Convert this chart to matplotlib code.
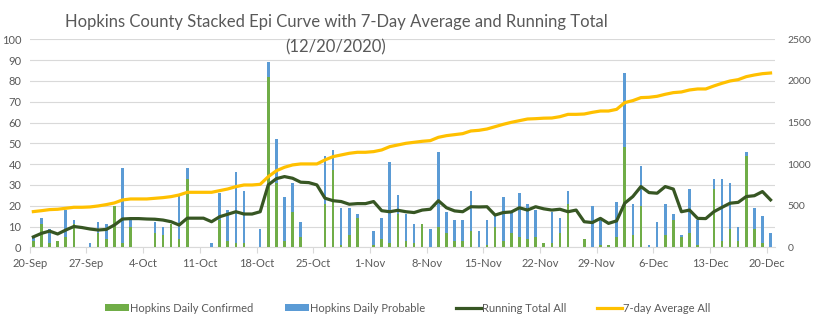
import matplotlib
matplotlib.use("Agg")
import matplotlib.pyplot as plt
import numpy as np
import pandas as pd

plt.rcParams['font.family'] = ['Lato', 'DejaVu Sans']

dates = pd.date_range('2020-09-20', '2020-12-20', freq='D')
tick_labels = ['20-Sep', '27-Sep', '4-Oct', '11-Oct', '18-Oct', '25-Oct', '1-Nov',
               '8-Nov', '15-Nov', '22-Nov', '29-Nov', '6-Dec', '13-Dec', '20-Dec']

confirmed = [3, 11, 2, 3, 5, 11, 0, 0, 7, 4, 20, 2, 10, 0, 0, 7, 6, 11, 4, 33,
             0, 0, 0, 13, 3, 2, 2, 0, 0, 82, 31, 3, 17, 5, 0, 0, 21, 37, 1, 6,
             14, 0, 1, 4, 2, 16, 3, 2, 11, 0, 10, 7, 3, 3, 8, 0, 1, 10, 3, 7,
             5, 4, 5, 2, 2, 7, 21, 0, 4, 0, 1, 1, 5, 48, 6, 20, 0, 0, 6, 13,
             5, 7, 1, 0, 28, 3, 9, 3, 44, 9, 2, 0]
probable = [2, 3, 7, 0, 13, 2, 0, 2, 5, 7, 0, 36, 4, 0, 0, 5, 4, 0, 21, 5,
            0, 0, 2, 13, 15, 34, 25, 0, 9, 7, 21, 21, 14, 7, 0, 0, 23, 10, 18, 13,
            2, 0, 7, 10, 39, 9, 13, 9, 0, 9, 36, 10, 10, 10, 19, 8, 12, 5, 21, 10,
            21, 17, 13, 0, 15, 7, 6, 0, 0, 20, 12, 0, 17, 36, 15, 19, 1, 12, 15, 3,
            1, 21, 12, 0, 5, 30, 22, 7, 2, 10, 13, 7]
avg_line = [5, 6.7, 7.8, 6.4, 8.3, 10, 9.5, 8.8, 8.3, 8.6, 10.7, 13.6, 13.8, 13.8, 13.6,
            13.5, 13.1, 12.3, 10.7, 14, 14, 14, 12.3, 14.7, 15.9, 17.1, 16, 16, 17.1, 30,
            33, 34, 33.2, 31.3, 31.1, 30, 23.6, 22.4, 22, 20.7, 21, 21, 22, 17.6, 17.1,
            17.8, 17.1, 16.7, 17.9, 18.3, 22.4, 19, 17.5, 17.1, 19.5, 19.4, 19.5, 15.5, 16.7,
            17, 19, 17.9, 19.5, 18.5, 17.9, 18.3, 17.1, 17.9, 12.3, 11.9, 13.9, 11.5, 12.7,
            21.2, 24.4, 29.2, 26.3, 26, 29.2, 28, 17.1, 17.9, 13.9, 13.8, 17.1, 19.2, 21.2,
            21.6, 24.4, 24.8, 26.8, 22.8]
running_total = [429, 440, 453, 457, 469, 481, 481, 485, 497, 513, 533, 569, 581, 581, 581,
                 589, 597, 609, 629, 661, 661, 661, 661, 681, 701, 729, 749, 749, 757, 849,
                 920, 962, 990, 1002, 1002, 1002, 1050, 1090, 1110, 1130, 1142, 1142, 1150,
                 1170, 1210, 1230, 1250, 1262, 1274, 1282, 1322, 1342, 1354, 1366, 1398, 1406,
                 1422, 1450, 1478, 1502, 1522, 1542, 1546, 1552, 1554, 1570, 1598, 1598, 1602,
                 1622, 1638, 1638, 1658, 1739, 1763, 1799, 1803, 1815, 1839, 1859, 1867, 1891,
                 1903, 1903, 1939, 1971, 1999, 2015, 2051, 2071, 2087, 2095]

GREEN = '#70AD47'
BLUE = '#5B9BD5'
DKGREEN = '#375623'
YELLOW = '#FFC000'
TXT = '#595959'
GRID = '#D9D9D9'

fig = plt.figure(figsize=(8.15, 3.31), dpi=100)
W, H = 815, 331
left, right, bottom, top = 29.7, 775, 247.3, 39.3
ax = fig.add_axes([left / W, 1 - bottom / H, (right - left) / W, (bottom - top) / H])
ax2 = ax.twinx()

x = np.arange(len(dates)) + 0.45
conf = np.array(confirmed)
prob = np.array(probable)
b1 = ax.bar(x, conf, width=0.32, color=GREEN, label='Hopkins Daily Confirmed', zorder=3)
b2 = ax.bar(x, prob, width=0.32, bottom=conf, color=BLUE, label='Hopkins Daily Probable', zorder=3)
l1, = ax.plot(x, avg_line, color=DKGREEN, lw=2.3, label='Running Total All', zorder=4)
l2, = ax2.plot(x, running_total, color=YELLOW, lw=2.3, label='7-day Average All', zorder=4)

ax.set_xlim(0, 92)
ax.set_ylim(0, 100)
ax2.set_ylim(0, 2500)
ax.set_yticks(np.arange(0, 101, 10))
ax2.set_yticks(np.arange(0, 2501, 500))
ax.set_xticks(np.arange(0, 92, 7))
ax.set_xticklabels(tick_labels)

ax.grid(axis='y', color=GRID, lw=0.8, zorder=0)
ax.set_axisbelow(True)
for a in (ax, ax2):
    for s in ('top', 'right', 'left', 'bottom'):
        a.spines[s].set_visible(False)
ax.spines['bottom'].set_visible(True)
ax.spines['bottom'].set_color(GRID)
ax.spines['bottom'].set_linewidth(0.8)

ax.tick_params(axis='y', length=0, pad=6, labelsize=8, labelcolor=TXT)
ax2.tick_params(axis='y', length=0, pad=9, labelsize=7.5, labelcolor=TXT)
ax.tick_params(axis='x', length=4, color=GRID, pad=4, labelsize=8, labelcolor=TXT)

fig.text(336 / W, 1 - 22 / H, 'Hopkins County Stacked Epi Curve with 7-Day Average and Running Total',
         ha='center', va='center', fontsize=12, color=TXT)
fig.text(336 / W, 1 - 47 / H, '(12/20/2020)', ha='center', va='center', fontsize=12, color=TXT)

fig.legend([b1, b2, l1, l2],
           ['Hopkins Daily Confirmed', 'Hopkins Daily Probable', 'Running Total All', '7-day Average All'],
           loc='center', bbox_to_anchor=(0.5, 1 - 308 / H), ncol=4,
           frameon=False, fontsize=8, labelcolor=TXT, handlelength=2.2, handleheight=0.6,
           columnspacing=2.8, handletextpad=0.1)

fig.savefig('out.png', dpi=100, facecolor='white')
